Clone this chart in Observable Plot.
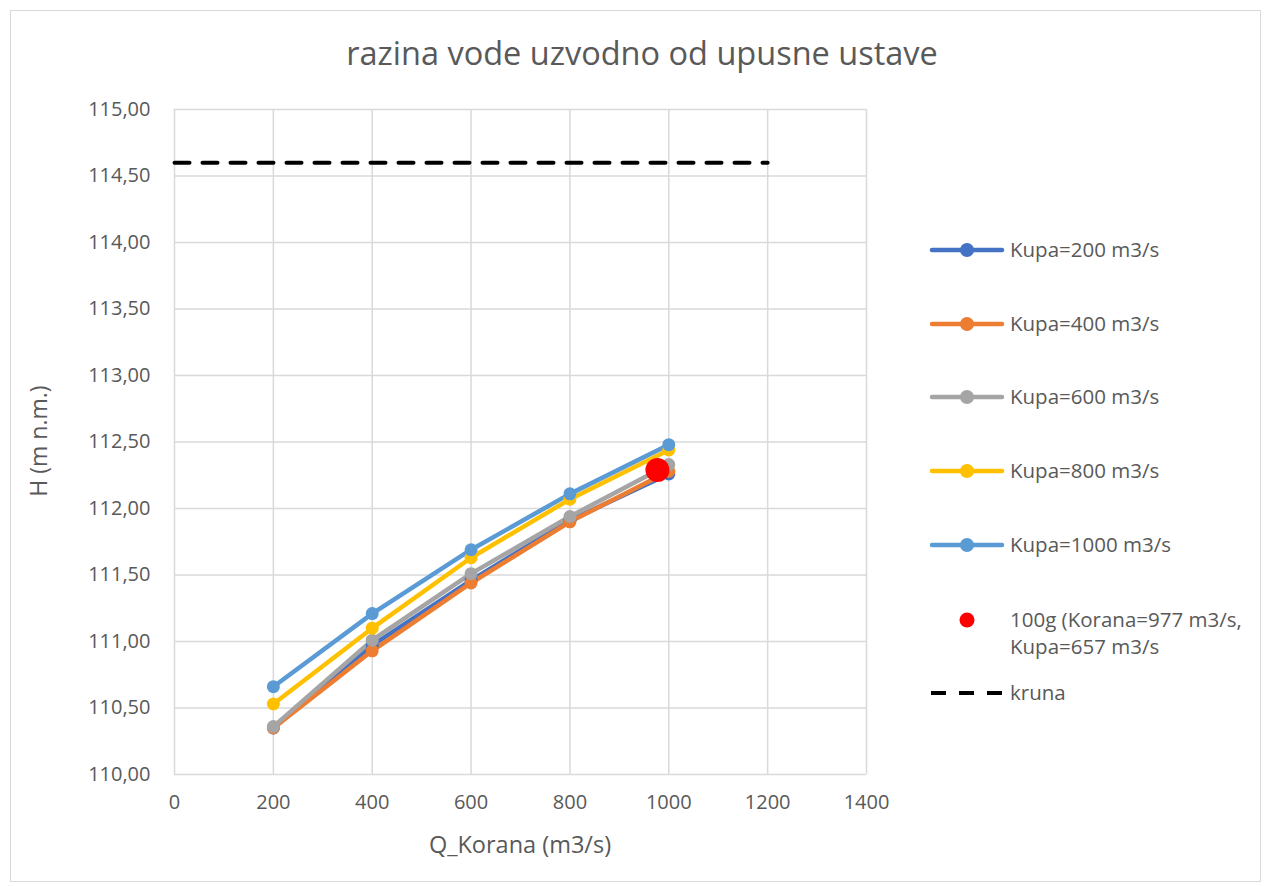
<!DOCTYPE html>
<html>
<head>
<meta charset="utf-8">
<script src="https://cdn.jsdelivr.net/npm/d3@7"></script>
<script src="https://cdn.jsdelivr.net/npm/@observablehq/plot@0.6"></script>
<style>
  html, body { margin: 0; padding: 0; background: #fff; }
  #wrap { position: relative; width: 1264px; height: 886px; font-family: "Open Sans", sans-serif; color: #595959; overflow: hidden; }
  #frame { position: absolute; left: 10px; top: 10px; width: 1251px; height: 872px; border: 1px solid #d9d9d9; box-sizing: border-box; }
  #chart { position: absolute; left: 0; top: 0; }
  .t { position: absolute; white-space: nowrap; }
  #title { left: 0; width: 1284px; text-align: center; top: 33px; font-size: 32.5px; line-height: 40px; }
  #xlabel { left: 174px; width: 692px; text-align: center; top: 829px; font-size: 23.5px; line-height: 30px; }
  #ylabel { left: 38px; top: 441px; font-size: 23px; line-height: 30px; transform: translate(-50%, -50%) rotate(-90deg); }
  #legend { position: absolute; left: 0; top: 0; width: 1264px; height: 886px; }
  .li { position: absolute; left: 929px; display: flex; align-items: center; font-size: 20.5px; line-height: 27px; white-space: nowrap; }
  .li svg { flex: none; margin-right: 5px; }
</style>
</head>
<body>
<div id="wrap">
  <div id="frame"></div>
  <div id="chart"></div>
  <div class="t" id="title">razina vode uzvodno od upusne ustave</div>
  <div class="t" id="xlabel">Q_Korana (m3/s)</div>
  <div class="t" id="ylabel">H (m n.m.)</div>
  <div id="legend"></div>
</div>
<script>
// Data
const qKorana = [200, 400, 600, 800, 1000];
const seriesNames = ["Kupa=200 m3/s", "Kupa=400 m3/s", "Kupa=600 m3/s", "Kupa=800 m3/s", "Kupa=1000 m3/s"];
const kupa200 = [110.35, 110.97, 111.46, 111.91, 112.26];
const kupa400 = [110.35, 110.93, 111.44, 111.90, 112.28];
const kupa600 = [110.36, 111.01, 111.51, 111.94, 112.33];
const kupa800 = [110.53, 111.10, 111.63, 112.07, 112.44];
const kupa1000 = [110.66, 111.21, 111.69, 112.11, 112.48];
const seriesColors = ["#4472C4", "#ED7D31", "#A5A5A5", "#FFC000", "#5B9BD5"];
const pointName = ["100g (Korana=977 m3/s,", "Kupa=657 m3/s"];
const pointQ = [977];
const pointH = [112.29];
const krunaName = "kruna";
const krunaQ = [0, 1200];
const krunaH = [114.60, 114.60];
const xTicks = [0, 200, 400, 600, 800, 1000, 1200, 1400];
const yTicks = [110, 110.5, 111, 111.5, 112, 112.5, 113, 113.5, 114, 114.5, 115];

const allSeries = [kupa200, kupa400, kupa600, kupa800, kupa1000];
const rows = [];
allSeries.forEach((vals, si) => vals.forEach((h, i) => rows.push({series: seriesNames[si], q: qKorana[i], h})));
const point = pointQ.map((q, i) => ({q, h: pointH[i]}));
const kruna = krunaQ.map((q, i) => ({q, h: krunaH[i]}));

const fmtY = d => d.toFixed(2).replace(".", ",");
const fmtX = d => String(d);

const plot = Plot.plot({
  width: 1264,
  height: 886,
  marginLeft: 174,
  marginRight: 398,
  marginTop: 109,
  marginBottom: 112,
  style: {fontFamily: "Open Sans, sans-serif", fontSize: "20px", color: "#595959", background: "transparent", overflow: "visible"},
  x: {domain: [0, 1400], ticks: xTicks},
  y: {domain: [110, 115], ticks: yTicks},
  color: {domain: seriesNames, range: seriesColors},
  marks: [
    Plot.gridX(xTicks, {stroke: "#d9d9d9", strokeOpacity: 1, strokeWidth: 1.5}),
    Plot.gridY(yTicks, {stroke: "#d9d9d9", strokeOpacity: 1, strokeWidth: 1.5}),
    Plot.axisX(xTicks, {tickSize: 0, tickPadding: 20, label: null, tickFormat: fmtX, fill: "#595959"}),
    Plot.axisY(yTicks, {tickSize: 0, tickPadding: 24, label: null, tickFormat: fmtY, fill: "#595959"}),
    Plot.line(kruna, {x: "q", y: "h", stroke: "#000", strokeWidth: 4, strokeDasharray: "15,13"}),
    Plot.line(rows, {x: "q", y: "h", z: "series", stroke: "series", strokeWidth: 4.5}),
    Plot.dot(rows, {x: "q", y: "h", fill: "series", r: 6.5}),
    Plot.dot(point, {x: "q", y: "h", fill: "#FF0000", r: 12})
  ]
});
document.getElementById("chart").appendChild(plot);

// Legend
const legend = document.getElementById("legend");
const ys = [250, 324, 397, 471, 545];
seriesNames.forEach((name, i) => {
  const div = document.createElement("div");
  div.className = "li";
  div.style.top = (ys[i] - 14) + "px";
  div.innerHTML = `<svg width="76" height="20"><line x1="3" x2="73" y1="10" y2="10" stroke="${seriesColors[i]}" stroke-width="4.5" stroke-linecap="round"/><circle cx="38" cy="10" r="7" fill="${seriesColors[i]}"/></svg><span>${name}</span>`;
  legend.appendChild(div);
});
{
  const div = document.createElement("div");
  div.className = "li";
  div.style.top = "606px";
  div.style.alignItems = "flex-start";
  div.innerHTML = `<svg width="76" height="27"><circle cx="38" cy="14" r="7.5" fill="#FF0000"/></svg><span>${pointName[0]}<br>${pointName[1]}</span>`;
  legend.appendChild(div);
}
{
  const div = document.createElement("div");
  div.className = "li";
  div.style.top = "679px";
  div.innerHTML = `<svg width="76" height="20"><line x1="2" x2="74" y1="10" y2="10" stroke="#000" stroke-width="4" stroke-dasharray="15,13"/></svg><span>${krunaName}</span>`;
  legend.appendChild(div);
}
</script>
</body>
</html>
